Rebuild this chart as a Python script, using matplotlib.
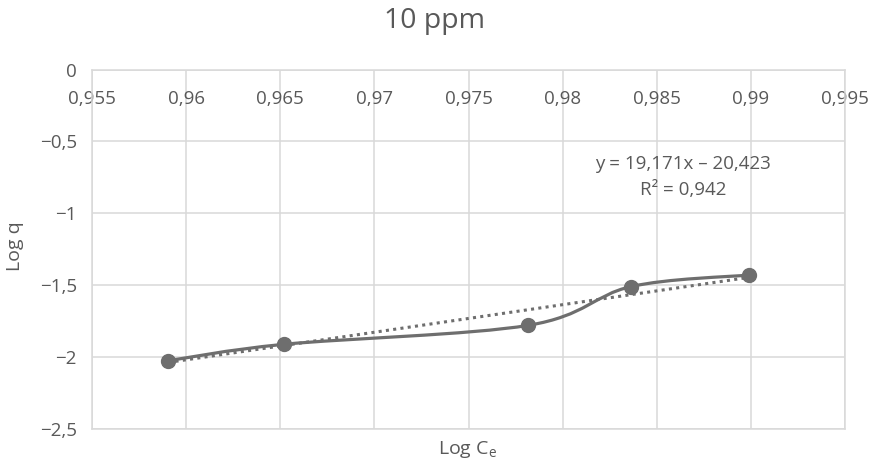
import numpy as np
import matplotlib
matplotlib.use("Agg")
import matplotlib.pyplot as plt
from matplotlib.path import Path
from matplotlib.patches import PathPatch

plt.rcParams['font.family'] = ['Open Sans', 'DejaVu Sans']

# Data
log_ce = [0.95905, 0.9652, 0.97818, 0.98362, 0.98991]
log_q = [-2.025, -1.911, -1.779, -1.510, -1.429]
slope, intercept = 19.171, -20.423
x_ticks = [0.955, 0.96, 0.965, 0.97, 0.975, 0.98, 0.985, 0.99, 0.995]
x_tick_labels = ["0,955", "0,96", "0,965", "0,97", "0,975", "0,98", "0,985", "0,99", "0,995"]
y_ticks = [0, -0.5, -1, -1.5, -2, -2.5]
y_tick_labels = ["0", "\u22120,5", "\u22121", "\u22121,5", "\u22122", "\u22122,5"]
title = "10 ppm"
eq_text = "y = 19,171x \u2013 20,423"
r2_text = "R\u00b2 = 0,942"

TXT = "#595959"
GRID = "#d9d9d9"
LINE = "#6e6e6e"

W, H = 874, 465
fig = plt.figure(figsize=(W / 100, H / 100), dpi=100)
ax = fig.add_axes([92 / W, 1 - 429 / H, 753 / W, (429 - 69.5) / H])

ax.set_xlim(0.955, 0.995)
ax.set_ylim(-2.5, 0)

ax.set_xticks(x_ticks)
ax.set_xticklabels(x_tick_labels)
ax.set_yticks(y_ticks)
ax.set_yticklabels(y_tick_labels)
ax.xaxis.set_ticks_position('top')
ax.tick_params(axis='x', length=0, pad=-28, labelsize=13.5, colors=TXT)
ax.tick_params(axis='y', length=0, pad=11, labelsize=13.5, colors=TXT)

ax.grid(True, color=GRID, linewidth=1.1)
ax.set_axisbelow(True)
for s in ax.spines.values():
    s.set_color(GRID)
    s.set_linewidth(1.1)

# Excel-style smoothed line through points (cubic Bezier)
pts = np.column_stack([log_ce, log_q])
n = len(pts)
verts = [tuple(pts[0])]
codes = [Path.MOVETO]
for i in range(n - 1):
    p0 = pts[i - 1] if i > 0 else pts[i]
    p1 = pts[i]
    p2 = pts[i + 1]
    p3 = pts[i + 2] if i + 2 < n else pts[i + 1]
    c1 = p1 + (p2 - p0) / 6.0
    c2 = p2 - (p3 - p1) / 6.0
    verts += [tuple(c1), tuple(c2), tuple(p2)]
    codes += [Path.CURVE4] * 3
ax.add_patch(PathPatch(Path(verts, codes), facecolor='none', edgecolor=LINE,
                       linewidth=2.3, zorder=3, capstyle='round', joinstyle='round'))
ax.plot(log_ce, log_q, linestyle='none', marker='o', markersize=10,
        color=LINE, zorder=4)

# Linear trendline
tx = np.array([log_ce[0], log_ce[-1]])
ax.plot(tx, slope * tx + intercept, color=LINE, linewidth=2.2,
        linestyle=(0, (1, 1.4)), zorder=2)

ax.text(683 / W, 1 - 164 / H, eq_text, transform=fig.transFigure,
        ha='center', va='center', fontsize=13.5, color=TXT)
ax.text(683 / W, 1 - 190 / H, r2_text, transform=fig.transFigure,
        ha='center', va='center', fontsize=13.5, color=TXT)

fig.text(434 / W, 1 - 21 / H, title, ha='center', va='center', fontsize=20.5, color=TXT)
fig.text(15 / W, 1 - 246 / H, "Log q", ha='center', va='center', rotation=90,
         fontsize=14, color=TXT)
fig.text(467 / W, 1 - 449 / H, "Log C$_\\mathregular{e}$", ha='center', va='center',
         fontsize=14, color=TXT)

fig.savefig("out.png", dpi=100)
